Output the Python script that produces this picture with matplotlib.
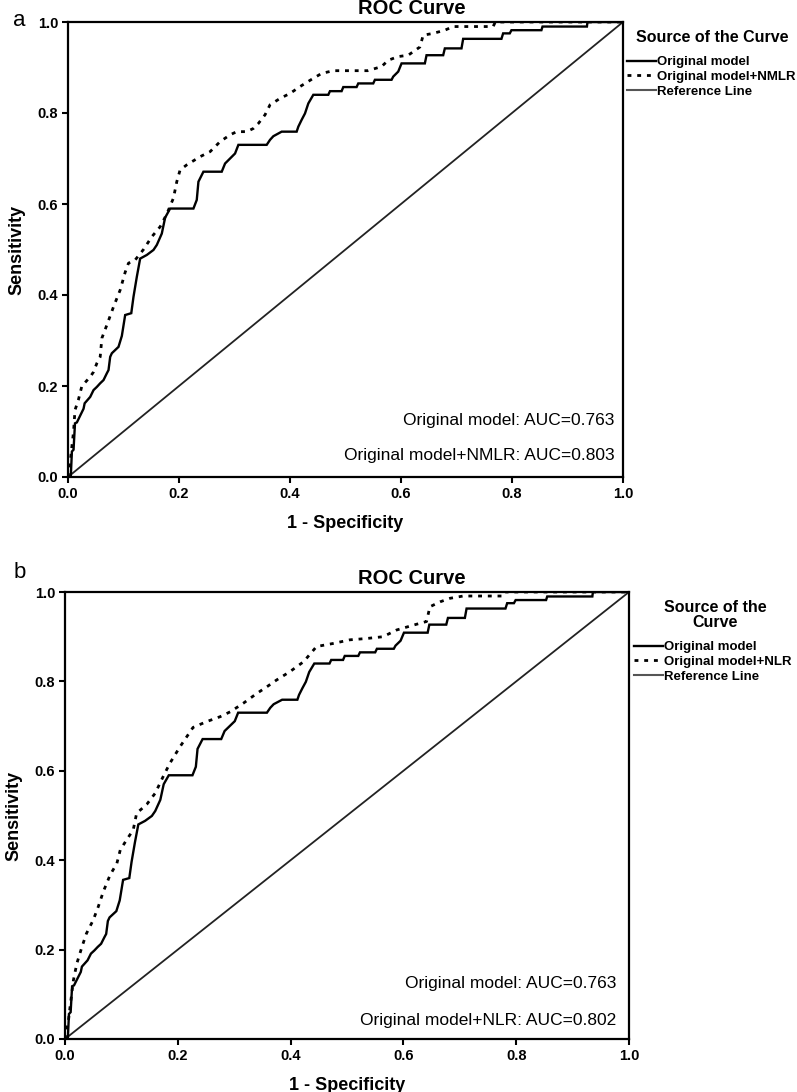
import matplotlib
matplotlib.use('Agg')
import matplotlib.pyplot as plt
from matplotlib.lines import Line2D

plt.rcParams['font.family'] = ['Liberation Sans', 'DejaVu Sans']

# ---------------- data ----------------
orig_fpr = [0.0, 0.005, 0.007, 0.010, 0.0126, 0.016, 0.022, 0.028, 0.030, 0.040, 0.046, 0.052,
            0.058, 0.064, 0.070, 0.073, 0.076, 0.079, 0.091, 0.097, 0.103, 0.114, 0.118, 0.124,
            0.130, 0.142, 0.154, 0.160, 0.169, 0.175, 0.184, 0.226, 0.232, 0.235, 0.244, 0.277,
            0.283, 0.292, 0.301, 0.307, 0.358, 0.364, 0.370, 0.385, 0.412, 0.415, 0.421, 0.427,
            0.433, 0.442, 0.469, 0.472, 0.493, 0.496, 0.520, 0.523, 0.550, 0.553, 0.583, 0.586,
            0.595, 0.601, 0.643, 0.646, 0.676, 0.679, 0.709, 0.712, 0.781, 0.784, 0.796, 0.799,
            0.853, 0.855, 0.935, 0.936, 1.0]
orig_tpr = [0.0, 0.0, 0.056, 0.060, 0.118, 0.120, 0.135, 0.150, 0.162, 0.176, 0.191, 0.198,
            0.206, 0.213, 0.228, 0.235, 0.264, 0.272, 0.286, 0.310, 0.356, 0.360, 0.396, 0.440,
            0.480, 0.488, 0.499, 0.510, 0.535, 0.570, 0.590, 0.590, 0.609, 0.649, 0.671, 0.671,
            0.689, 0.700, 0.711, 0.730, 0.730, 0.741, 0.749, 0.759, 0.759, 0.770, 0.785, 0.799,
            0.821, 0.840, 0.840, 0.848, 0.848, 0.857, 0.857, 0.865, 0.865, 0.873, 0.873, 0.880,
            0.891, 0.909, 0.909, 0.927, 0.927, 0.942, 0.942, 0.963, 0.963, 0.975, 0.975, 0.982,
            0.982, 0.990, 0.990, 1.0, 1.0]

nmlr_fpr = [0.0, 0.005, 0.010, 0.0126, 0.0186, 0.025, 0.040, 0.046, 0.052, 0.058, 0.061, 0.070,
            0.082, 0.094, 0.103, 0.109, 0.121, 0.136, 0.151, 0.166, 0.178, 0.190, 0.196, 0.202,
            0.214, 0.238, 0.256, 0.274, 0.292, 0.304, 0.322, 0.334, 0.343, 0.355, 0.364, 0.382,
            0.400, 0.418, 0.439, 0.457, 0.478, 0.540, 0.565, 0.577, 0.595, 0.613, 0.634, 0.640,
            0.658, 0.679, 0.694, 0.766, 0.770, 1.0]
nmlr_tpr = [0.0, 0.045, 0.100, 0.147, 0.169, 0.200, 0.220, 0.231, 0.250, 0.264, 0.305, 0.334,
            0.374, 0.411, 0.450, 0.470, 0.477, 0.500, 0.528, 0.550, 0.578, 0.613, 0.649, 0.675,
            0.686, 0.704, 0.715, 0.737, 0.752, 0.759, 0.759, 0.766, 0.777, 0.796, 0.818, 0.832,
            0.843, 0.858, 0.874, 0.887, 0.893, 0.893, 0.902, 0.916, 0.924, 0.927, 0.945, 0.971,
            0.975, 0.982, 0.990, 0.990, 1.0, 1.0]

nlr_fpr = [0.0, 0.006, 0.009, 0.012, 0.015, 0.021, 0.030, 0.038, 0.050, 0.059, 0.068, 0.080,
           0.092, 0.098, 0.109, 0.121, 0.127, 0.145, 0.160, 0.174, 0.186, 0.204, 0.227, 0.251,
           0.275, 0.293, 0.316, 0.340, 0.358, 0.375, 0.399, 0.423, 0.446, 0.476, 0.505, 0.535,
           0.564, 0.588, 0.618, 0.641, 0.647, 0.665, 0.683, 0.706, 0.777, 0.780, 1.0]
nlr_tpr = [0.0, 0.040, 0.072, 0.102, 0.132, 0.169, 0.206, 0.236, 0.266, 0.296, 0.330, 0.367,
           0.393, 0.423, 0.445, 0.468, 0.505, 0.525, 0.550, 0.587, 0.617, 0.654, 0.697, 0.710,
           0.721, 0.732, 0.751, 0.773, 0.788, 0.803, 0.822, 0.844, 0.878, 0.885, 0.893, 0.896,
           0.900, 0.915, 0.926, 0.934, 0.967, 0.978, 0.986, 0.991, 0.991, 1.0, 1.0]

ref_line = [0.0, 1.0]

tick_vals = [0.0, 0.2, 0.4, 0.6, 0.8, 1.0]
tick_labels = ['0.0', '0.2', '0.4', '0.6', '0.8', '1.0']

panel_letters = ['a', 'b']
new_model_labels = ['Original model+NMLR', 'Original model+NLR']
auc_texts = [['Original model: AUC=0.763', 'Original model+NMLR: AUC=0.803'],
             ['Original model: AUC=0.763', 'Original model+NLR: AUC=0.802']]
legend_titles = ['Source of the Curve', 'Source of the\nCurve']

# ---------------- layout ----------------
W, H = 797, 1092
fig = plt.figure(figsize=(W / 100, H / 100), dpi=100)


def px_axes(l, t, r, b):
    return [l / W, 1 - b / H, (r - l) / W, (b - t) / H]


axes_px = [(68, 22, 623, 477), (65, 592, 629, 1039)]
title_y = [9, 578]
letter_pos = [(19, 20), (20, 572)]
legend_anchor = [(627, 56), (634, 641)]
header_pos = [(712, 38), (715, 615)]
auc_pos = [(0.985, 0.125, 0.048), (0.977, 0.125, 0.0425)]
new_series = [(nmlr_fpr, nmlr_tpr), (nlr_fpr, nlr_tpr)]

for i in range(2):
    ax = fig.add_axes(px_axes(*axes_px[i]))
    fx, fy = new_series[i]
    ax.plot(orig_fpr, orig_tpr, color='black', lw=1.7, solid_joinstyle='miter', zorder=3)
    ax.plot(fx, fy, color='black', lw=2.0, linestyle=(0, (1.4, 2.1)),
            dash_capstyle='butt', zorder=3)
    ax.plot(ref_line, ref_line, color='#222222', lw=1.3, zorder=2)
    ax.set_xlim(0, 1)
    ax.set_ylim(0, 1)
    ax.set_xticks(tick_vals)
    ax.set_xticklabels(tick_labels)
    ax.set_yticks(tick_vals)
    ax.set_yticklabels(tick_labels)
    for s in ax.spines.values():
        s.set_linewidth(1.6)
    ax.tick_params(direction='out', length=4, width=1.5, labelsize=10.5, pad=3)
    for lab in ax.get_xticklabels() + ax.get_yticklabels():
        lab.set_fontweight('bold')
    ax.set_xlabel('1 - Specificity', fontsize=13, fontweight='bold', labelpad=10)
    ax.set_ylabel('Sensitivity', fontsize=13, fontweight='bold', labelpad=9)

    xr, y1, y2 = auc_pos[i]
    ax.text(xr, y1, auc_texts[i][0], ha='right', va='center', fontsize=12.5)
    ax.text(xr, y2, auc_texts[i][1], ha='right', va='center', fontsize=12.5)

    fig.text(412 / W, 1 - title_y[i] / H, 'ROC Curve', ha='center', va='center',
             fontsize=14.5, fontweight='bold')
    lx, ly = letter_pos[i]
    fig.text(lx / W, 1 - ly / H, panel_letters[i], ha='center', va='center', fontsize=16)

    hx, hy = header_pos[i]
    fig.text(hx / W, 1 - hy / H, legend_titles[i], ha='center', va='center',
             multialignment='center', fontsize=11.5, fontweight='bold', linespacing=1.0)

    handles = [Line2D([], [], color='black', lw=1.7),
               Line2D([], [], color='black', lw=2.0, linestyle=(0, (1.4, 2.1))),
               Line2D([], [], color='#555555', lw=1.5)]
    labels = ['Original model', new_model_labels[i], 'Reference Line']
    ax_pos = legend_anchor[i]
    fig.legend(handles, labels, loc='upper left',
               bbox_to_anchor=(ax_pos[0] / W, 1 - ax_pos[1] / H),
               frameon=False,
               prop={'size': 9.5, 'weight': 'bold'},
               handlelength=2.2, handletextpad=0.1, labelspacing=0.2,
               borderpad=0, borderaxespad=0)

fig.savefig('out.png', dpi=100)
